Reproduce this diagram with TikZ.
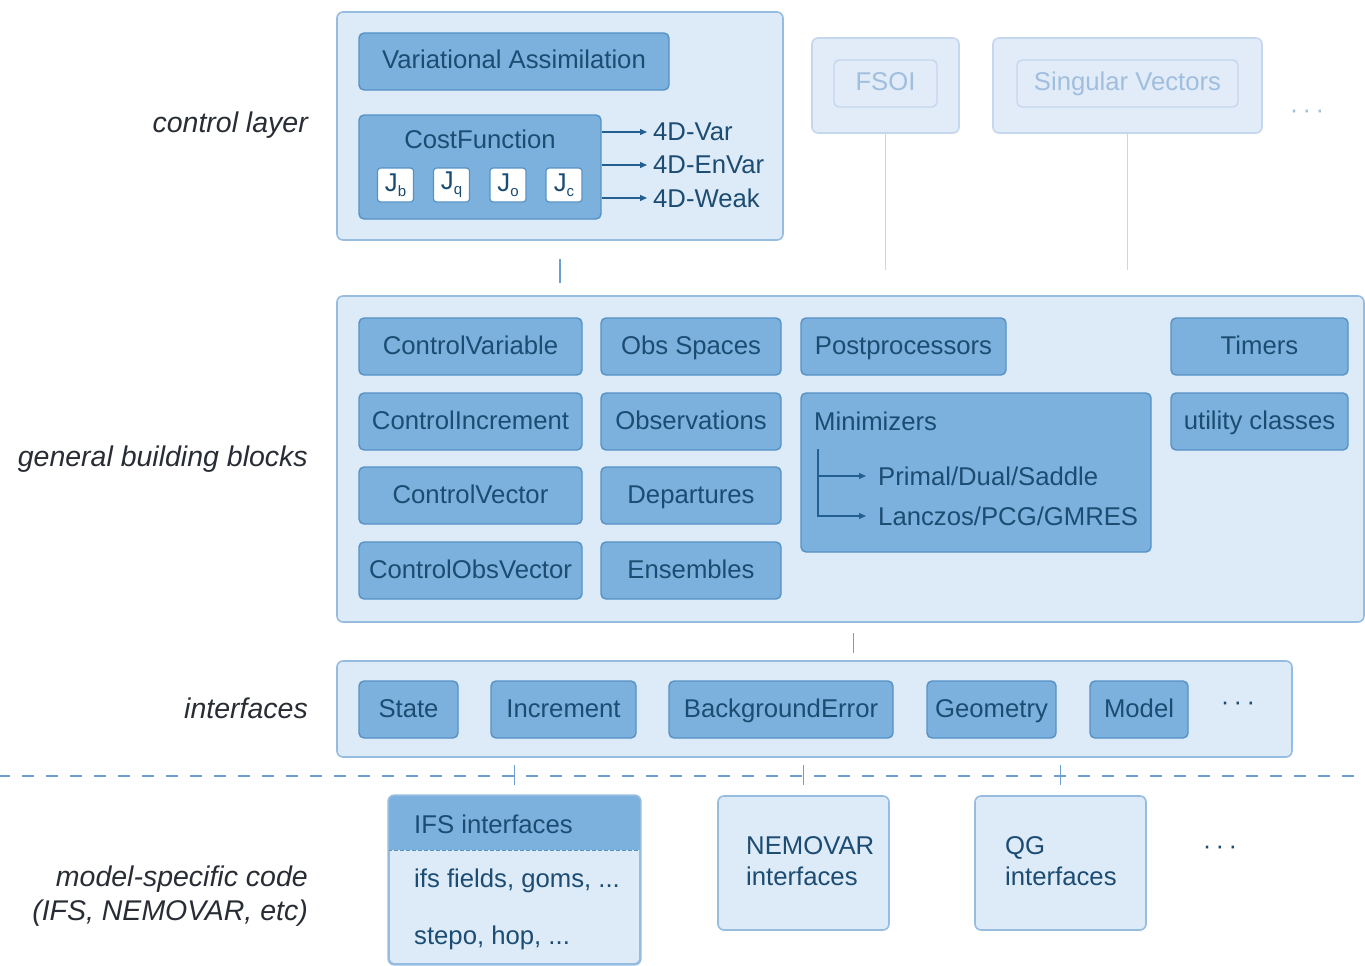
\documentclass[tikz,border=0pt]{standalone}
\usepackage{fontspec}
\setmainfont{Liberation Sans}
\usetikzlibrary{arrows.meta,calc}
\definecolor{txt}{RGB}{28,76,114}
\definecolor{lbl}{RGB}{40,44,52}
\definecolor{outfill}{RGB}{221,234,247}
\definecolor{outdraw}{RGB}{150,189,224}
\definecolor{blkfill}{RGB}{124,177,222}
\definecolor{blkdraw}{RGB}{86,146,197}
\definecolor{fadefill}{RGB}{225,236,248}
\definecolor{fadedraw}{RGB}{196,215,236}
\definecolor{fadetxt}{RGB}{160,190,222}
\definecolor{conn}{RGB}{110,160,205}
\definecolor{arr}{RGB}{35,95,145}
\newcommand\myfont{\fontsize{25.7}{31}\selectfont}
\newcommand\sidefont{\fontsize{28.5}{34}\selectfont}
\newcommand\subf{\fontsize{15}{15}\selectfont}
\begin{document}
\begin{tikzpicture}[x=1pt,y=-1pt,
  outer/.style={draw=outdraw,fill=outfill,line width=1.6pt,rounded corners=6pt,inner sep=0pt},
  blk/.style={draw=blkdraw,fill=blkfill,line width=1.4pt,rounded corners=5pt,inner sep=0pt,text=txt,font=\myfont,minimum height=57pt,text height=19pt,text depth=4pt},
  jbox/.style={draw=blkdraw,fill=white,line width=1.2pt,rounded corners=3pt,inner sep=0pt,text=txt,font=\myfont,minimum width=36pt,minimum height=34pt},
  fadeo/.style={draw=fadedraw,fill=fadefill,line width=1.6pt,rounded corners=6pt,inner sep=0pt},
  fadei/.style={draw=fadedraw,fill=fadefill,line width=1.4pt,rounded corners=5pt,inner sep=0pt,text=fadetxt,font=\myfont,minimum height=47pt,text height=19pt,text depth=4pt},
  plain/.style={inner sep=0pt,text=txt,font=\myfont},
  side/.style={inner sep=0pt,text=lbl,font=\sidefont\itshape,anchor=east,align=right},
  arrw/.style={draw=arr,line width=1.2pt,-{Triangle[length=7pt,width=6pt]}},
  cline/.style={draw=conn,line width=1.4pt},
  fline/.style={draw=fadedraw,line width=1.8pt},
  dots/.style={inner sep=0pt,font=\myfont}
]
\useasboundingbox (0,0) rectangle (1365,966);
\clip (0,0) rectangle (1365,966);

% left labels
\node[side] (lctrl) at (308,125) {control layer};
\node[side] (lgbb) at (308,459) {general building blocks};
\node[side] (lint) at (308,708) {interfaces};
\node[side] (lmod) at (308,896) {model-specific code\\(IFS, NEMOVAR, etc)};

% control layer
\node[outer,minimum width=446pt,minimum height=228pt] (ctrl) at (560,126) {};
\node[blk,minimum width=310pt] (va) at (514,61.5) {Variational Assimilation};
\node[blk,minimum width=242pt,minimum height=104pt] (cf) at (480,167) {};
\node[plain] (cft) at (480,139) {CostFunction};
\node[jbox] (jb) at (395.5,185) {J\raisebox{-0.35ex}{\subf b}};
\node[jbox] (jq) at (451.5,185) {J\raisebox{-0.35ex}{\subf q}};
\node[jbox] (jo) at (508,185) {J\raisebox{-0.35ex}{\subf o}};
\node[jbox] (jc) at (564,185) {J\raisebox{-0.35ex}{\subf c}};
\node[plain,anchor=west] (v1) at (653,132) {4D-Var};
\node[plain,anchor=west] (v2) at (653,165) {4D-EnVar};
\node[plain,anchor=west] (v3) at (653,198) {4D-Weak};
\draw[arrw,shorten >=6pt] (cf.east |- v1.west) -- (v1.west);
\draw[arrw,shorten >=6pt] (cf.east |- v2.west) -- (v2.west);
\draw[arrw,shorten >=6pt] (cf.east |- v3.west) -- (v3.west);

% faded applications
\node[fadeo,minimum width=147pt,minimum height=95pt] (fsoo) at (885.5,85.5) {};
\node[fadei,minimum width=103pt] (fsoi) at (885.5,83.5) {FSOI};
\node[fadeo,minimum width=269pt,minimum height=95pt] (svo) at (1127.5,85.5) {};
\node[fadei,minimum width=221pt] (svi) at (1127.5,83.5) {Singular Vectors};
\coordinate (fsoend) at (885.5,270);
\coordinate (svend) at (1127.5,270);
\draw[fline] (fsoo.south) -- (fsoend);
\draw[fline] (svo.south) -- (svend);
\node[dots,text=fadetxt] (tdots) at (1307,114) {·\,·\,·};

% link control -> gbb
\draw[cline] ([yshift=-18pt]ctrl.south) -- ++(0,24);

% general building blocks
\node[outer,minimum width=1027pt,minimum height=326pt] (gbb) at (850.5,459) {};
\node[blk,minimum width=223pt] (cvar) at (470.5,346.5) {ControlVariable};
\node[blk,minimum width=223pt] (cinc) at (470.5,421.5) {ControlIncrement};
\node[blk,minimum width=223pt] (cvec) at (470.5,495.5) {ControlVector};
\node[blk,minimum width=223pt] (cobs) at (470.5,570.5) {ControlObsVector};
\node[blk,minimum width=180pt] (obss) at (691,346.5) {Obs Spaces};
\node[blk,minimum width=180pt] (obsv) at (691,421.5) {Observations};
\node[blk,minimum width=180pt] (dep) at (691,495.5) {Departures};
\node[blk,minimum width=180pt] (ens) at (691,570.5) {Ensembles};
\node[blk,minimum width=205pt] (post) at (903.5,346.5) {Postprocessors};
\node[blk,minimum width=350pt,minimum height=159pt] (mini) at (976,472.5) {};
\node[plain,anchor=west] (mint) at (814,421) {Minimizers};
\node[plain,anchor=west] (p1) at (878,476) {Primal/Dual/Saddle};
\node[plain,anchor=west] (p2) at (878,516) {Lanczos/PCG/GMRES};
\coordinate (tr) at (818,449);
\draw[arrw,shorten >=12pt] (tr) |- (p1.west);
\draw[arrw,shorten >=12pt] (tr) |- (p2.west);
\node[blk,minimum width=177pt] (tim) at (1259.5,346.5) {Timers};
\node[blk,minimum width=177pt] (util) at (1259.5,421.5) {utility classes};

% link gbb -> interfaces
\draw[cline] ([xshift=3pt,yshift=-10pt]gbb.south) -- ++(0,20);

% interfaces
\node[outer,minimum width=955pt,minimum height=96pt] (intf) at (814.5,709) {};
\node[blk,minimum width=99pt] (state) at (408.5,709.5) {State};
\node[blk,minimum width=145pt] (incr) at (563.5,709.5) {Increment};
\node[blk,minimum width=224pt] (berr) at (781,709.5) {BackgroundError};
\node[blk,minimum width=129pt] (geom) at (991.5,709.5) {Geometry};
\node[blk,minimum width=98pt] (model) at (1139,709.5) {Model};
\node[dots,text=txt] (idots) at (1238,706) {·\,·\,·};

% dashed separator
\coordinate (dl) at (0,776);
\coordinate (dr) at (1365,776);
\draw[cline,dash pattern=on 12pt off 12pt,dash phase=-22pt] (dl) -- (dr);

% model-specific code
\node[outer,minimum width=251pt,minimum height=168pt] (ifs) at (514.5,880) {};
\begin{scope}
\clip[rounded corners=6pt] (ifs.north west) rectangle (ifs.south east);
\fill[blkfill] (ifs.north west) rectangle ($(ifs.north east)+(0,55)$);
\end{scope}
\draw[blkdraw,line width=1.4pt,dash pattern=on 4pt off 2pt] ($(ifs.north west)+(0,55)$) -- ($(ifs.north east)+(0,55)$);
\draw[outdraw,line width=1.6pt,rounded corners=6pt] (ifs.north west) rectangle (ifs.south east);
\node[plain,anchor=west] (ifsh) at (414,824) {IFS interfaces};
\node[plain,anchor=west] (ifs1) at (414,881) {ifs fields, goms, ...};
\node[plain,anchor=west] (ifs2) at (414,938) {stepo, hop, ...};
\node[outer,minimum width=171pt,minimum height=134pt] (nemo) at (803.5,863) {};
\node[plain,anchor=west,align=left] (nemot) at (746,861) {NEMOVAR\\interfaces};
\node[outer,minimum width=171pt,minimum height=134pt] (qg) at (1060.5,863) {};
\node[plain,anchor=west,align=left] (qgt) at (1005,861) {QG\\interfaces};
\node[dots,text=txt] (bdots) at (1220,850) {·\,·\,·};
\draw[cline] ([yshift=30pt]ifs.north) -- ++(0,20);
\draw[cline] ([yshift=30pt]nemo.north) -- ++(0,20);
\draw[cline] ([yshift=30pt]qg.north) -- ++(0,20);
\end{tikzpicture}
\end{document}
